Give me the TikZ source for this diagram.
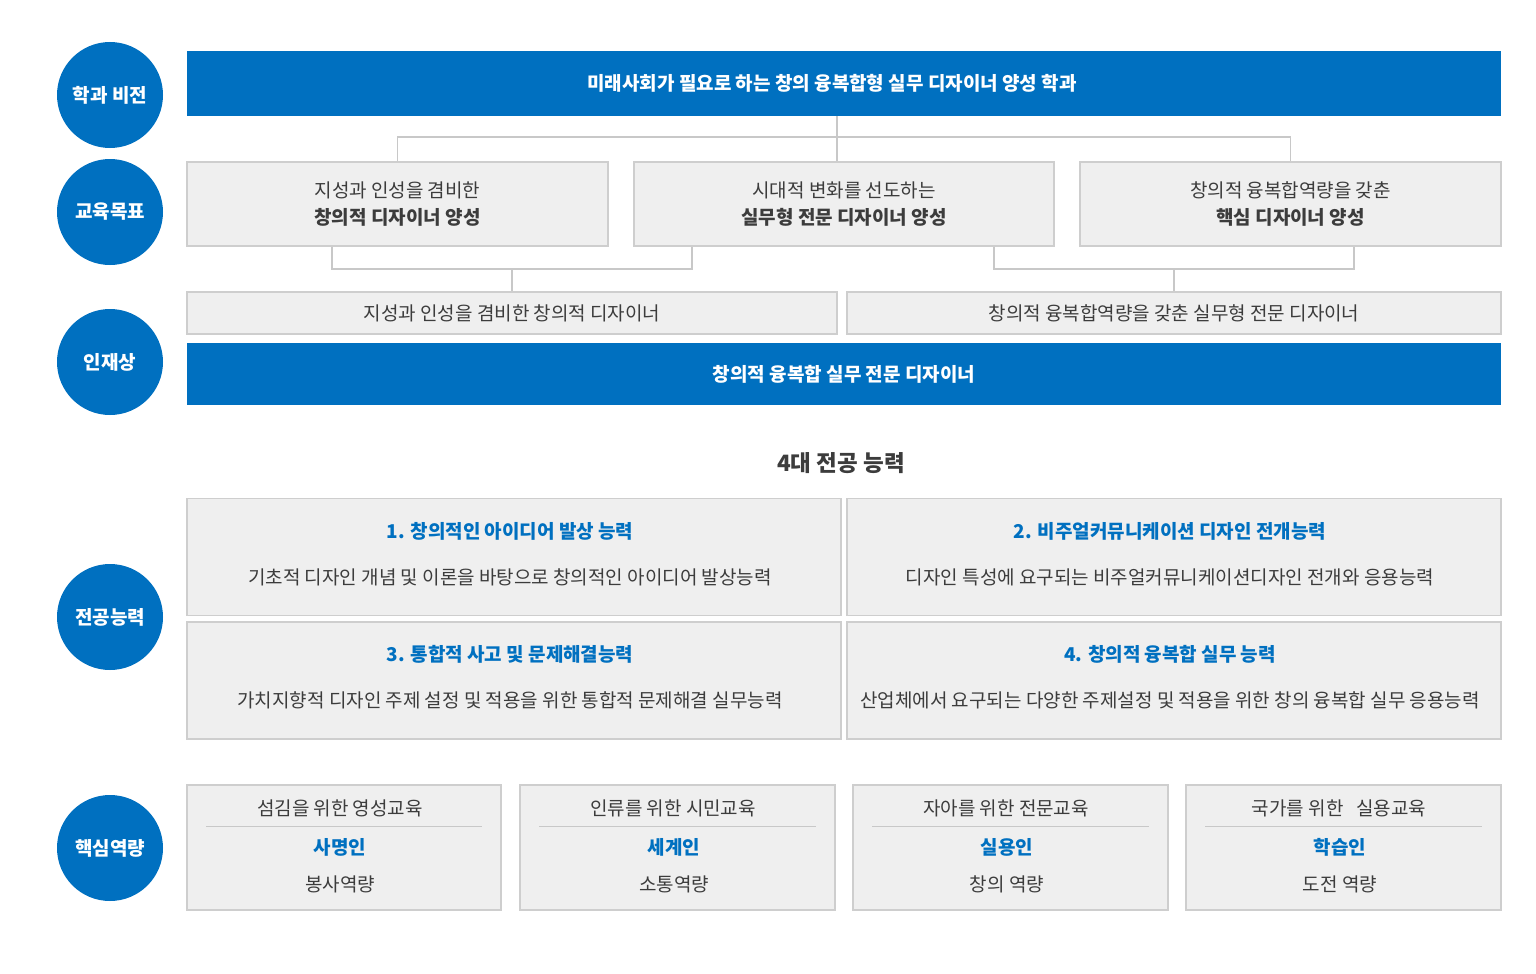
\documentclass[tikz,border=0pt]{standalone}
\usepackage{fontspec}
\setmainfont{Noto Sans CJK KR}
\usetikzlibrary{backgrounds}
\definecolor{mainblue}{RGB}{0,112,192}
\definecolor{boxfill}{RGB}{239,239,239}
\definecolor{boxline}{RGB}{206,206,206}
\definecolor{txtcol}{RGB}{60,60,60}
\definecolor{conncol}{RGB}{200,200,200}
\newcommand\bodysize{\fontsize{19}{22}\selectfont}
\begin{document}
\begin{tikzpicture}[x=1pt,y=-1pt,
  circ/.style={circle,fill=mainblue,draw=none,minimum size=106,inner sep=0,text=white,font=\bodysize\bfseries},
  bluebar/.style={rectangle,fill=mainblue,draw=none,inner sep=0,text=white,font=\bodysize\bfseries},
  gbox/.style={rectangle,fill=boxfill,draw=boxline,line width=1.2pt,inner sep=0,text=txtcol,font=\bodysize,align=center},
  conn/.style={draw=conncol,line width=1.3pt},
  ttl/.style={inner sep=0,text=mainblue,font=\bodysize\bfseries},
  dsc/.style={inner sep=0,text=txtcol,font=\bodysize},
  sep/.style={draw=conncol,line width=1pt}]
\useasboundingbox[fill=white] (0,0) rectangle (1536,974);

% left circles
\node[circ] (c1) at (110,95) {학과 비전};
\node[circ] (c2) at (110,212) {교육목표};
\node[circ] (c3) at (110,362) {인재상};
\node[circ] (c4) at (110,617) {전공능력};
\node[circ] (c5) at (110,848) {핵심역량};
\begin{scope}[on background layer]
\draw[draw=mainblue,line width=3pt] (c1) -- (c5);
\end{scope}

% vision bar
\node[bluebar,minimum width=1314,minimum height=65] (v) at (844,83.5) {};
\node[inner sep=0,text=white,font=\bodysize\bfseries] (vt) at (832,83) {미래사회가 필요로 하는 창의 융복합형 실무 디자이너 양성 학과};

% goals
\node[gbox,minimum width=421,minimum height=84] (g1) at (397.5,204) {지성과 인성을 겸비한\\[5pt]{\bfseries 창의적 디자이너 양성}};
\node[gbox,minimum width=420,minimum height=84] (g2) at (844,204) {시대적 변화를 선도하는\\[5pt]{\bfseries 실무형 전문 디자이너 양성}};
\node[gbox,minimum width=421,minimum height=84] (g3) at (1290.5,204) {창의적 융복합역량을 갖춘\\[5pt]{\bfseries 핵심 디자이너 양성}};

\coordinate (j0) at (837,137);
\draw[conn] (v.south -| j0) -- (j0 |- g2.north);
\draw[conn] (g1.north) |- (j0) -| (g3.north);

% talent
\node[gbox,minimum width=650,minimum height=42] (t1) at (512,313) {지성과 인성을 겸비한 창의적 디자이너};
\node[gbox,minimum width=654,minimum height=42] (t2) at (1174,313) {창의적 융복합역량을 갖춘 실무형 전문 디자이너};

\coordinate (j1) at (512,269);
\coordinate (j2) at (1174,269);
\draw[conn] ([xshift=-65.5pt]g1.south) |- (j1) -| ([xshift=-152pt]g2.south);
\draw[conn] (j1) -- (t1.north);
\draw[conn] ([xshift=150pt]g2.south) |- (j2) -| ([xshift=63.5pt]g3.south);
\draw[conn] (j2) -- (t2.north);

\node[bluebar,minimum width=1314,minimum height=62] (v2) at (844,374) {창의적 융복합 실무 전문 디자이너};

% heading
\node[inner sep=0,text=txtcol,font=\fontsize{22.5}{26}\selectfont\bfseries] (hd) at (841,463) {4대 전공 능력};

% competency boxes
\node[gbox,minimum width=654,minimum height=117] (k1) at (514,557) {};
\node[gbox,minimum width=654,minimum height=117] (k2) at (1174,557) {};
\node[gbox,minimum width=654,minimum height=117] (k3) at (514,680.5) {};
\node[gbox,minimum width=654,minimum height=117] (k4) at (1174,680.5) {};
\node[ttl] (k1t) at (510,531) {1. 창의적인 아이디어 발상 능력};
\node[dsc] (k1d) at (510,577) {기초적 디자인 개념 및 이론을 바탕으로 창의적인 아이디어 발상능력};
\node[ttl] (k2t) at (1170,531) {2. 비주얼커뮤니케이션 디자인 전개능력};
\node[dsc] (k2d) at (1170,577) {디자인 특성에 요구되는 비주얼커뮤니케이션디자인 전개와 응용능력};
\node[ttl] (k3t) at (510,654) {3. 통합적 사고 및 문제해결능력};
\node[dsc] (k3d) at (510,700) {가치지향적 디자인 주제 설정 및 적용을 위한 통합적 문제해결 실무능력};
\node[ttl] (k4t) at (1170,654) {4. 창의적 융복합 실무 능력};
\node[dsc] (k4d) at (1170,700) {산업체에서 요구되는 다양한 주제설정 및 적용을 위한 창의 융복합 실무 응용능력};

% core boxes
\node[gbox,minimum width=314,minimum height=125] (b1) at (344,847.5) {};
\node[gbox,minimum width=315,minimum height=125] (b2) at (677.5,847.5) {};
\node[gbox,minimum width=315,minimum height=125] (b3) at (1010.5,847.5) {};
\node[gbox,minimum width=315,minimum height=125] (b4) at (1343.5,847.5) {};

\node[dsc] (b1a) at (340,808) {섬김을 위한 영성교육};
\draw[sep] ([xshift=20pt,yshift=-42pt]b1.north west) -- ([xshift=-20pt,yshift=-42pt]b1.north east);
\node[ttl] (b1b) at (340,847) {사명인};
\node[dsc] (b1c) at (340,884) {봉사역량};

\node[dsc] (b2a) at (673,808) {인류를 위한 시민교육};
\draw[sep] ([xshift=20pt,yshift=-42pt]b2.north west) -- ([xshift=-20pt,yshift=-42pt]b2.north east);
\node[ttl] (b2b) at (674,847) {세계인};
\node[dsc] (b2c) at (674,884) {소통역량};

\node[dsc] (b3a) at (1006,808) {자아를 위한 전문교육};
\draw[sep] ([xshift=20pt,yshift=-42pt]b3.north west) -- ([xshift=-20pt,yshift=-42pt]b3.north east);
\node[ttl] (b3b) at (1007,847) {실용인};
\node[dsc] (b3c) at (1007,884) {창의 역량};

\node[dsc] (b4a) at (1339,808) {국가를 위한\hspace{0.45em} 실용교육};
\draw[sep] ([xshift=20pt,yshift=-42pt]b4.north west) -- ([xshift=-20pt,yshift=-42pt]b4.north east);
\node[ttl] (b4b) at (1340,847) {학습인};
\node[dsc] (b4c) at (1340,884) {도전 역량};
\end{tikzpicture}
\end{document}
